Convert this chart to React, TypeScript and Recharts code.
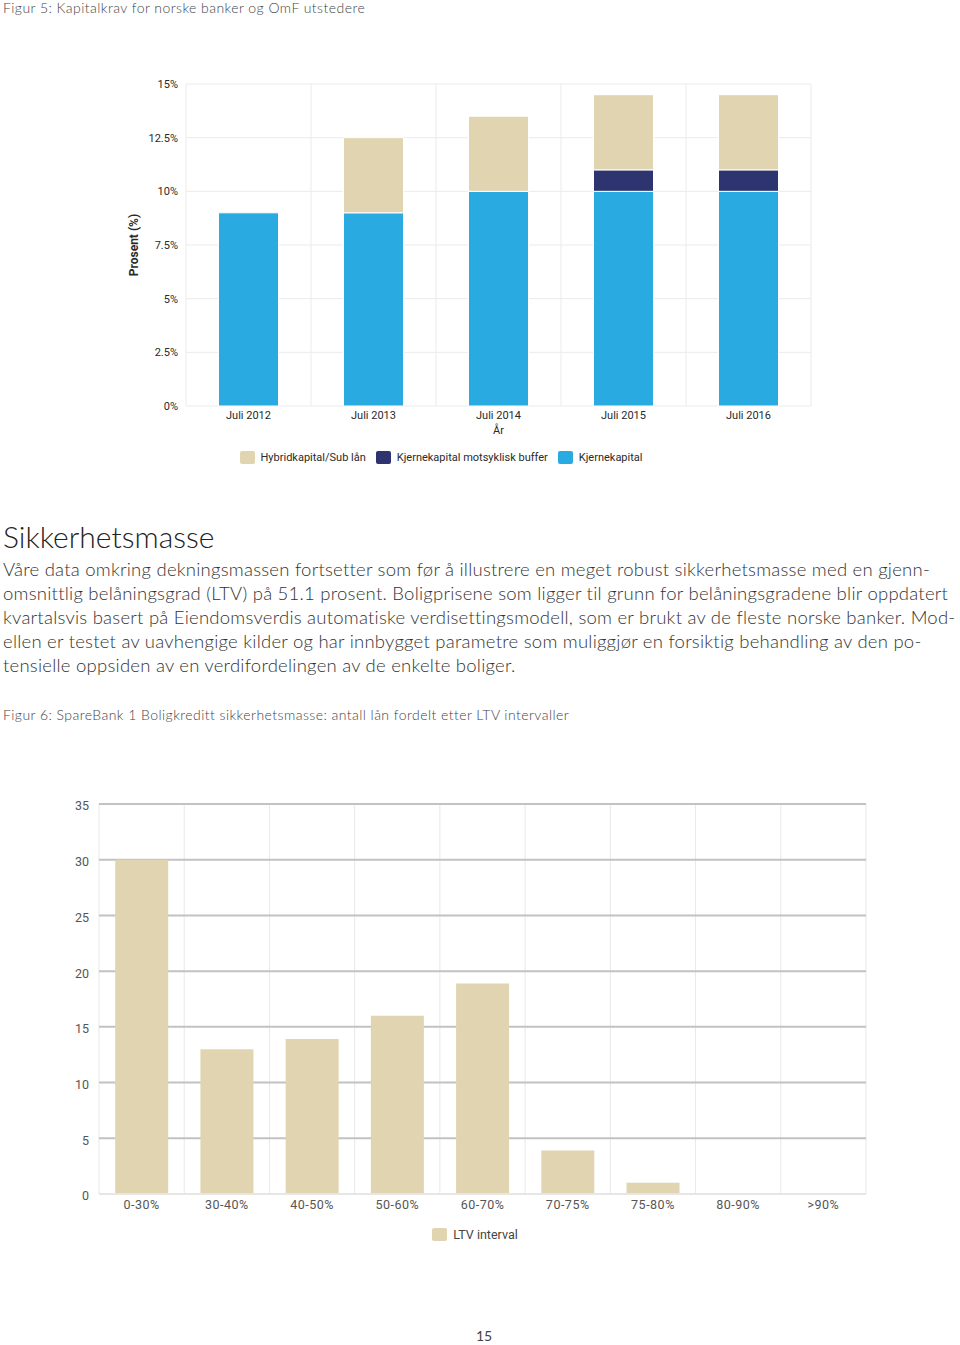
import React from "react";
import {
  Bar,
  BarChart,
  CartesianGrid,
  Label,
  Legend,
  ReferenceLine,
  XAxis,
  YAxis,
} from "recharts";

// Figur 5 – kapitalkrav (prosent)
const years = ["Juli 2012", "Juli 2013", "Juli 2014", "Juli 2015", "Juli 2016"];
const kjernekapital = [9, 9, 10, 10, 10];
const motsykliskBuffer = [0, 0, 0, 1, 1];
const hybridkapital = [0, 3.5, 3.5, 3.5, 3.5];
const capitalTicks = [0, 2.5, 5, 7.5, 10, 12.5, 15];

// Figur 6 – antall lån per LTV-intervall
const ltvIntervals = ["0-30%", "30-40%", "40-50%", "50-60%", "60-70%", "70-75%", "75-80%", "80-90%", ">90%"];
const ltvLoans = [30, 13, 13.9, 16, 18.9, 3.9, 1, 0, 0];
const ltvTicks = [0, 5, 10, 15, 20, 25, 30, 35];

const paragraphLines = [
  "Våre data omkring dekningsmassen fortsetter som før å illustrere en meget robust sikkerhetsmasse med en gjenn-",
  "omsnittlig belåningsgrad (LTV) på 51.1 prosent. Boligprisene som ligger til grunn for belåningsgradene blir oppdatert",
  "kvartalsvis basert på Eiendomsverdis automatiske verdisettingsmodell, som er brukt av de fleste norske banker. Mod-",
  "ellen er testet av uavhengige kilder og har innbygget parametre som muliggjør en forsiktig behandling av den po-",
  "tensielle oppsiden av en verdifordelingen av de enkelte boliger.",
];

const BEIGE = "#e0d5b0";
const NAVY = "#2d3470";
const BLUE = "#29abe2";
const CHART_FONT = "'Liberation Sans Narrow', Roboto, sans-serif";
const TEXT_FONT = "Lato, 'Open Sans', sans-serif";

const capitalData = years.map((year, i) => ({
  year,
  kjerne: kjernekapital[i],
  buffer: motsykliskBuffer[i],
  hybrid: hybridkapital[i],
}));

const ltvData = ltvIntervals.map((interval, i) => ({ interval, loans: ltvLoans[i] }));

const capitalLegend = [
  { name: "Hybridkapital/Sub lån", color: BEIGE },
  { name: "Kjernekapital motsyklisk buffer", color: NAVY },
  { name: "Kjernekapital", color: BLUE },
];

// grid lines between categories instead of through the ticks
const boundaries = (n: number) => ({ offset }: any) =>
  Array.from({ length: n + 1 }, (_, i) => offset.left + (offset.width * i) / n);

function SwatchLegend({ items, fontSize, color }: { items: { name: string; color: string }[]; fontSize: number; color: string }) {
  return (
    <div style={{ display: "flex", justifyContent: "center", gap: 10, fontFamily: CHART_FONT, fontSize, color }}>
      {items.map((it) => (
        <span key={it.name} style={{ display: "flex", alignItems: "center", gap: 6 }}>
          <span style={{ width: 15, height: 13, background: it.color, borderRadius: 2, display: "inline-block" }} />
          {it.name}
        </span>
      ))}
    </div>
  );
}

function CapitalChart() {
  return (
    <BarChart
      width={960}
      height={420}
      data={capitalData}
      margin={{ top: 24, right: 149, bottom: 44, left: 120 }}
      barCategoryGap="26%"
    >
      <CartesianGrid stroke="#ebebeb" verticalCoordinatesGenerator={boundaries(years.length)} />
      <XAxis
        dataKey="year"
        axisLine={false}
        tickLine={false}
        tickSize={0}
        tickMargin={5}
        height={30}
        tick={{ fill: "#2a2a2a", fontSize: 11, fontFamily: CHART_FONT }}
      >
        <Label value="År" position="insideBottom" offset={2} fill="#2a2a2a" fontSize={11} fontFamily={CHART_FONT} />
      </XAxis>
      <YAxis
        domain={[0, 15]}
        ticks={capitalTicks}
        tickFormatter={(v) => `${v}%`}
        axisLine={false}
        tickLine={false}
        tickSize={0}
        tickMargin={8}
        width={66}
        tick={{ fill: "#2a2a2a", fontSize: 11, fontFamily: CHART_FONT }}
      >
        <Label
          value="Prosent (%)"
          angle={-90}
          position="insideLeft"
          offset={14}
          fill="#2a2a2a"
          fontSize={12}
          fontWeight="bold"
          fontFamily={CHART_FONT}
          style={{ textAnchor: "middle" }}
        />
      </YAxis>
      <Legend
        layout="horizontal"
        verticalAlign="middle"
        align="center"
        wrapperStyle={{ top: 391, left: 191, width: 500 }}
        content={() => <SwatchLegend items={capitalLegend} fontSize={11} color="#2a2a2a" />}
      />
      <Bar dataKey="kjerne" name="Kjernekapital" stackId="k" fill={BLUE} stroke="#fff" strokeWidth={1} isAnimationActive={false} />
      <Bar dataKey="buffer" name="Kjernekapital motsyklisk buffer" stackId="k" fill={NAVY} stroke="#fff" strokeWidth={1} isAnimationActive={false} />
      <Bar dataKey="hybrid" name="Hybridkapital/Sub lån" stackId="k" fill={BEIGE} stroke="#fff" strokeWidth={1} isAnimationActive={false} />
    </BarChart>
  );
}

function LtvChart() {
  return (
    <BarChart
      width={960}
      height={480}
      data={ltvData}
      margin={{ top: 24, right: 94, bottom: 36, left: 40 }}
      barCategoryGap="19%"
    >
      <CartesianGrid horizontal={false} stroke="#e8e8e8" verticalCoordinatesGenerator={boundaries(ltvIntervals.length)} />
      <CartesianGrid vertical={false} stroke="#c2c2c2" strokeWidth={2} />
      <ReferenceLine y={0} stroke="#e6e6e6" strokeWidth={2} />
      <XAxis
        dataKey="interval"
        axisLine={false}
        tickLine={false}
        tickSize={0}
        tickMargin={6}
        height={30}
        tick={{ fill: "#555", fontSize: 12.5, fontFamily: CHART_FONT, letterSpacing: 0.5 }}
      />
      <YAxis
        domain={[0, 35]}
        ticks={ltvTicks}
        axisLine={false}
        tickLine={false}
        tickSize={0}
        tickMargin={10}
        width={59}
        tick={{ fill: "#555", fontSize: 12.5, fontFamily: CHART_FONT, dy: 2 }}
      />
      <Legend
        layout="horizontal"
        verticalAlign="middle"
        align="center"
        wrapperStyle={{ top: 447, left: 325, width: 300 }}
        content={() => <SwatchLegend items={[{ name: "LTV interval", color: BEIGE }]} fontSize={12.5} color="#444" />}
      />
      <Bar dataKey="loans" name="LTV interval" fill={BEIGE} isAnimationActive={false} />
    </BarChart>
  );
}

export default function App() {
  const abs = (top: number, extra: React.CSSProperties = {}): React.CSSProperties => ({
    position: "absolute",
    top,
    left: 3,
    whiteSpace: "nowrap",
    fontFamily: TEXT_FONT,
    ...extra,
  });
  return (
    <div style={{ position: "absolute", top: 0, left: 0, width: 960, height: 1345, background: "#fff" }}>
      <div style={abs(0, { fontSize: 14, lineHeight: "15px", color: "#444", fontWeight: 300, letterSpacing: 0.45 })}>
        Figur 5: Kapitalkrav for norske banker og OmF utstedere
      </div>
      <div style={{ position: "absolute", top: 60, left: 0 }}>
        <CapitalChart />
      </div>
      <div style={abs(517, { fontSize: 30, lineHeight: "38px", color: "#222", fontWeight: 300 })}>Sikkerhetsmasse</div>
      <div style={abs(557, { fontSize: 18.5, lineHeight: "24px", color: "#333", fontWeight: 300, letterSpacing: 0.24 })}>
        {paragraphLines.map((line) => (
          <div key={line}>{line}</div>
        ))}
      </div>
      <div style={abs(706, { fontSize: 14, lineHeight: "18px", color: "#444", fontWeight: 300, letterSpacing: 0.45 })}>
        Figur 6: SpareBank 1 Boligkreditt sikkerhetsmasse: antall lån fordelt etter LTV intervaller
      </div>
      <div style={{ position: "absolute", top: 780, left: 0 }}>
        <LtvChart />
      </div>
      <div style={abs(1327, { left: 476, fontSize: 14, lineHeight: "18px", color: "#444" })}>15</div>
    </div>
  );
}
